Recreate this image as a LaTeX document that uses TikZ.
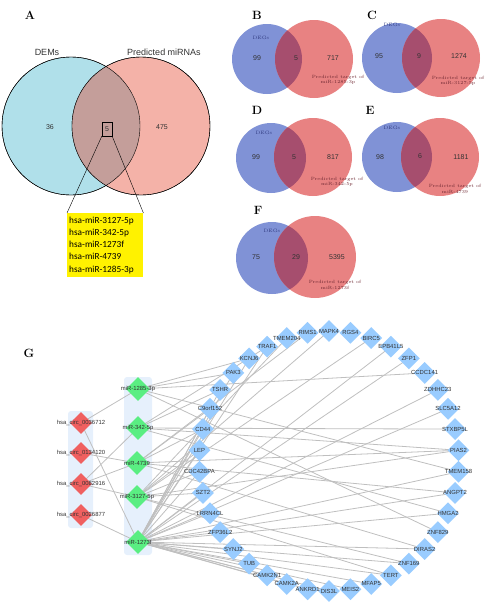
\documentclass[tikz,border=0pt]{standalone}
\usepackage{fontspec}
\setsansfont{Liberation Sans}
\newfontfamily\listfont{Carlito}
\usetikzlibrary{shapes.geometric,backgrounds}

\definecolor{demcyan}{RGB}{176,224,234}
\definecolor{mirpink}{RGB}{244,178,168}
\definecolor{mixA}{RGB}{196,158,154}
\definecolor{degblue}{RGB}{128,146,214}
\definecolor{tarred}{RGB}{232,130,130}
\definecolor{mixB}{RGB}{166,78,110}
\definecolor{genefill}{RGB}{153,204,255}
\definecolor{mirfill}{RGB}{90,238,130}
\definecolor{circfill}{RGB}{240,96,96}
\definecolor{boxfill}{RGB}{230,240,252}

\begin{document}
\begin{tikzpicture}[x=1pt, y=-1pt,
    panel/.style={font=\bfseries\fontsize{12}{14}\selectfont},
    bigsans/.style={font=\sffamily\fontsize{9}{10}\selectfont, text=black!80},
    num/.style={font=\sffamily\fontsize{7}{8}\selectfont, text=black!80},
    degs/.style={font=\fontsize{4.8}{5}\selectfont, text={rgb,255:red,50;green,60;blue,130}},
    pred/.style={font=\fontsize{4.6}{5.4}\selectfont, align=center, text={rgb,255:red,110;green,40;blue,50}},
    gene/.style={diamond, aspect=1, inner sep=0pt, minimum size=22pt, fill=genefill},
    mir/.style={diamond, aspect=1, inner sep=0pt, minimum size=24pt, fill=mirfill},
    circ/.style={diamond, aspect=1, inner sep=0pt, minimum size=22pt, fill=circfill},
    netlbl/.style={font=\sffamily\fontsize{5.9}{6}\selectfont, text=black!80, inner sep=0pt},
    edge/.style={draw=black!25, line width=0.8pt}]

    \useasboundingbox (0,0) rectangle (499,606);

    % A
    \node[panel] (A) at (30,15) {A};
    \draw[fill=demcyan] (71,126) circle (69pt);
    \draw[fill=mirpink] (141,126) circle (69pt);
    \begin{scope}
    \clip (71,126) circle (69pt);
    \fill [color = mixA] (141,126) circle (69pt);
    \end{scope}
    \draw (71,126) circle (69pt);
    \draw (141,126) circle (69pt);

    \node[bigsans] (dems) at (47,52) {DEMs};
    \node[bigsans] (predmir) at (164,52) {Predicted miRNAs};
    \node[num] (n36) at (50,127) {36};
    \node[num] (n475) at (162,127) {475};
    \node[num, draw, inner sep=0pt, minimum width=10pt, minimum height=14pt] (five) at (107,129) {5};

    \node[fill=yellow, anchor=north west, inner xsep=2pt, inner ysep=3pt, text width=72pt, minimum height=64pt, align=left,
          font=\listfont\fontsize{9.3}{12.2}\selectfont] (mirlist) at (67,213)
        {hsa-miR-3127-5p\\hsa-miR-342-5p\\hsa-miR-1273f\\hsa-miR-4739\\hsa-miR-1285-3p};
    \draw (five.south west) -- (mirlist.north west);
    \draw (five.south east) -- (mirlist.north east);

    % B
    \node[panel] (B) at (257,15) {B};
    \fill[degblue] (267,59) circle (35pt);
    \fill[tarred] (314,59) circle (39pt);
    \begin{scope}
    \clip (267,59) circle (35pt);
    \fill [color = mixB] (314,59) circle (39pt);
    \end{scope}
    \node[degs] (degsB) at (261,38) {DEGs};
    \node[num] (b1) at (257,58) {99};
    \node[num] (b2) at (296,58) {5};
    \node[num] (b3) at (333,58) {717};
    \node[pred] (predB) at (338,80) {Predicted target of\\miR-1285-3p};

    % C
    \node[panel] (C) at (372,15) {C};
    \fill[degblue] (397,58) circle (35pt);
    \fill[tarred] (441,58) circle (39pt);
    \begin{scope}
    \clip (397,58) circle (35pt);
    \fill [color = mixB] (441,58) circle (39pt);
    \end{scope}
    \node[degs] (degsC) at (392,25) {DEGs};
    \node[num] (c1) at (379,56) {95};
    \node[num] (c2) at (419,56) {9};
    \node[num] (c3) at (459,56) {1274};
    \node[pred] (predC) at (458,81) {Predicted target of\\miR-3127-5p};

    % D
    \node[panel] (D) at (257,110) {D};
    \fill[degblue] (271,158) circle (35pt);
    \fill[tarred] (313,157) circle (39pt);
    \begin{scope}
    \clip (271,158) circle (35pt);
    \fill [color = mixB] (313,157) circle (39pt);
    \end{scope}
    \node[degs] (degsD) at (264,133) {DEGs};
    \node[num] (d1) at (256,157) {99};
    \node[num] (d2) at (294,157) {5};
    \node[num] (d3) at (333,157) {817};
    \node[pred] (predD) at (337,182) {Predicted target of\\miR-342-5p};

    % E
    \node[panel] (E) at (370,110) {E};
    \fill[degblue] (397,157) circle (35pt);
    \fill[tarred] (440,157) circle (39pt);
    \begin{scope}
    \clip (397,157) circle (35pt);
    \fill [color = mixB] (440,157) circle (39pt);
    \end{scope}
    \node[degs] (degsE) at (392,128) {DEGs};
    \node[num] (e1) at (380,157) {98};
    \node[num] (e2) at (420,156) {6};
    \node[num] (e3) at (461,157) {1181};
    \node[pred] (predE) at (455,189) {Predicted target of\\miR-4739};

    % F
    \node[panel] (F) at (258,210) {F};
    \fill[degblue] (272,258) circle (36pt);
    \fill[tarred] (315,257) circle (41pt);
    \begin{scope}
    \clip (272,258) circle (36pt);
    \fill [color = mixB] (315,257) circle (41pt);
    \end{scope}
    \node[degs] (degsF) at (272,231) {DEGs};
    \node[num] (f1) at (256,257) {75};
    \node[num] (f2) at (296,257) {29};
    \node[num] (f3) at (337,257) {5395};
    \node[pred] (predF) at (335,285) {Predicted target of\\miR-1273f};

    % G
    \node[panel] (G) at (29,353) {G};

    \foreach \g [count=\i from 0] in {MAPK4,RGS4,BIRC5,EPB41L5,ZFP1,CCDC141,ZDHHC23,SLC5A12,STXBP5L,PIAS2,
        TMEM158,ANGPT2,HMGA2,ZNF829,DIRAS2,ZNF169,TERT,MFAP5,MEIS2,DIS3L,
        ANKRD1,CAMK2A,CAMK2N1,TUB,SYNJ2,ZFP36L2,LRRN4CL,SZT2,CDC42BPA,LEP,
        CD44,C9orf152,TSHR,PAK3,KCNJ6,TRAF1,TMEM204,RIMS1}
        \node[gene, label={[netlbl]center:\g}] (\g) at ([shift={(-90+\i*360/38:130)}]329,461) {};

    \node[mir, label={[netlbl]center:miR-1285-3p}] (m1285) at (138,389) {};
    \node[mir, label={[netlbl]center:miR-342-5p}] (m342) at (138,428) {};
    \node[mir, label={[netlbl]center:miR-4739}] (m4739) at (137,463) {};
    \node[mir, label={[netlbl]center:miR-3127-5p}] (m3127) at (137,497) {};
    \node[mir, label={[netlbl]center:miR-1273f}] (m1273) at (138,542) {};

    \node[circ, label={[netlbl]center:hsa\_circ\_0036712}] (c36712) at (81,423) {};
    \node[circ, label={[netlbl]center:hsa\_circ\_0134120}] (c134120) at (81,453) {};
    \node[circ, label={[netlbl]center:hsa\_circ\_0082916}] (c82916) at (81,484) {};
    \node[circ, label={[netlbl]center:hsa\_circ\_0026877}] (c26877) at (81,515) {};

    \begin{scope}[on background layer]
    \fill[boxfill, rounded corners=3pt] (68,411) rectangle (93,528);
    \fill[boxfill, rounded corners=3pt] (124,377) rectangle (152,555);

    \foreach \a/\b in {c36712/m1285, c36712/m1273, c134120/m4739, c82916/m342, c82916/m4739, c82916/m3127, c26877/m1273}
        \draw[edge] (\a.center) -- (\b.center);

    \foreach \g in {KCNJ6,PAK3,CCDC141,ZNF829,TMEM158}
        \draw[edge] (m1285.center) -- (\g.center);
    \foreach \g in {TRAF1,TSHR,STXBP5L,PIAS2,HMGA2}
        \draw[edge] (m342.center) -- (\g.center);
    \foreach \g in {C9orf152,RIMS1,PIAS2,ANGPT2,DIRAS2,CD44}
        \draw[edge] (m4739.center) -- (\g.center);
    \foreach \g in {TMEM204,MAPK4,LEP,SZT2,PIAS2,ZNF169,CDC42BPA,BIRC5,TERT}
        \draw[edge] (m3127.center) -- (\g.center);
    \foreach \g in {TRAF1,KCNJ6,PAK3,TSHR,C9orf152,CD44,LEP,CDC42BPA,SZT2,LRRN4CL,
        ZFP36L2,SYNJ2,TUB,CAMK2N1,CAMK2A,ANKRD1,DIS3L,MEIS2,MFAP5,TERT,
        ZNF169,DIRAS2,HMGA2,ANGPT2,TMEM158,SLC5A12,ZDHHC23,ZFP1,EPB41L5}
        \draw[edge] (m1273.center) -- (\g.center);
    \end{scope}
\end{tikzpicture}
\end{document}
